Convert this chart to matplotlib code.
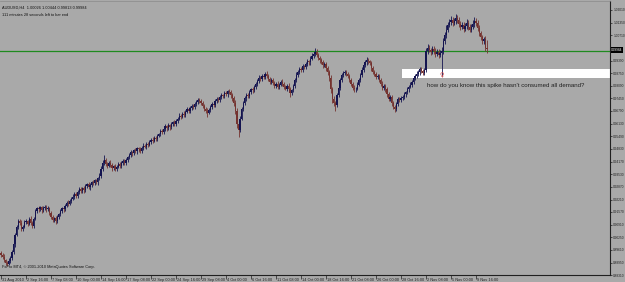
import matplotlib
matplotlib.use("Agg")
from matplotlib import pyplot as plt
from matplotlib.patches import Rectangle
import matplotlib.transforms as mtransforms

# AUDUSD H4 closes, in 1/10000 (one row per 16 bars)
closes = [
    8935, 8925, 8910, 8895, 8890, 8905, 8920, 8950, 8990, 9040, 9080, 9110, 9100, 9070, 9080, 9105,
    9110, 9095, 9120, 9100, 9085, 9120, 9160, 9175, 9170, 9180, 9165, 9175, 9185, 9170, 9175, 9150,
    9130, 9115, 9125, 9110, 9130, 9145, 9160, 9175, 9170, 9190, 9205, 9200, 9215, 9225, 9235, 9250,
    9240, 9260, 9275, 9265, 9280, 9270, 9290, 9300, 9285, 9295, 9310, 9305, 9320, 9310, 9330, 9345,
    9380, 9410, 9425, 9405, 9395, 9410, 9400, 9385, 9395, 9380, 9390, 9405, 9395, 9410, 9420, 9410,
    9425, 9440, 9450, 9465, 9460, 9475, 9470, 9485, 9480, 9470, 9490, 9500, 9495, 9510, 9505, 9520,
    9530, 9525, 9540, 9535, 9550, 9560, 9575, 9570, 9585, 9600, 9590, 9605, 9595, 9610, 9620, 9610,
    9625, 9640, 9655, 9650, 9665, 9660, 9675, 9690, 9680, 9695, 9705, 9700, 9715, 9725, 9735, 9730,
    9720, 9705, 9690, 9680, 9670, 9685, 9700, 9715, 9710, 9730, 9740, 9735, 9750, 9760, 9755, 9770,
    9765, 9780, 9775, 9760, 9745, 9720, 9680, 9610, 9580, 9640, 9690, 9720, 9745, 9760, 9755, 9775,
    9790, 9785, 9805, 9820, 9835, 9850, 9845, 9860, 9855, 9870, 9860, 9845, 9830, 9840, 9825, 9810,
    9820, 9805, 9815, 9830, 9820, 9805, 9795, 9810, 9790, 9770, 9785, 9810, 9840, 9865, 9880, 9895,
    9890, 9910, 9905, 9920, 9935, 9930, 9950, 9965, 9975, 9985, 9970, 9955, 9940, 9930, 9915, 9920,
    9900, 9880, 9850, 9790, 9740, 9720, 9710, 9760, 9800, 9840, 9865, 9875, 9880, 9870, 9860, 9840,
    9820, 9800, 9790, 9795, 9815, 9840, 9865, 9890, 9915, 9930, 9940, 9935, 9925, 9900, 9880, 9870,
    9855, 9860, 9840, 9820, 9800, 9810, 9790, 9765, 9740, 9750, 9720, 9700, 9690, 9715, 9740, 9735,
    9745, 9750, 9765, 9775, 9790, 9805, 9815, 9830, 9850, 9860, 9870, 9880, 9895, 9885, 9875, 9890,
    9990, 10005, 9995, 9985, 10000, 9990, 9975, 9985, 9970, 9980, 9990, 10040, 10070, 10100, 10125, 10140,
    10150, 10135, 10145, 10160, 10150, 10130, 10115, 10125, 10105, 10120, 10135, 10115, 10100, 10115, 10130, 10145,
    10135, 10110, 10080, 10060, 10040, 10050, 10003, 9998,
]
first_open = 8945

# wick lengths in pips above / below the body
wick_up = [
    10, 8, 12, 6, 9, 14, 7, 11, 15, 9, 12, 8, 10, 13, 7, 9,
    12, 6, 10, 14, 8, 9, 11, 7, 13, 10, 8, 12, 6, 9, 11, 7,
    10, 13, 8, 9, 12, 7, 11, 10, 14, 8, 9, 12, 7, 10, 13, 9,
    8, 11, 10, 12, 7, 9, 13, 8, 10, 11, 6, 12, 9, 8, 10, 14,
    12, 18, 25, 9, 11, 8, 13, 10, 7, 12, 9, 11, 8, 10, 13, 9,
    11, 8, 10, 12, 9, 7, 13, 10, 8, 11, 9, 12, 7, 10, 8, 11,
    9, 12, 8, 10, 11, 7, 13, 9, 10, 12, 8, 11, 9, 10, 7, 12,
    10, 8, 12, 9, 11, 13, 8, 10, 12, 9, 11, 8, 10, 12, 9, 11,
    13, 9, 10, 8, 12, 11, 9, 10, 8, 12, 10, 9, 11, 13, 8, 10,
    12, 9, 14, 10, 11, 13, 15, 12, 18, 14, 11, 9, 12, 10, 13, 11,
    9, 12, 10, 11, 8, 13, 10, 12, 9, 11, 14, 10, 8, 12, 9, 11,
    10, 13, 9, 11, 12, 8, 10, 9, 13, 11, 8, 10, 12, 14, 9, 11,
    10, 12, 9, 13, 11, 10, 12, 14, 11, 22, 13, 10, 9, 12, 11, 10,
    12, 10, 11, 13, 12, 15, 10, 14, 12, 11, 10, 13, 9, 11, 12, 10,
    11, 9, 12, 10, 13, 11, 12, 14, 10, 12, 18, 11, 9, 12, 10, 11,
    12, 10, 9, 11, 12, 10, 9, 13, 11, 12, 10, 9, 12, 11, 10, 12,
    10, 12, 11, 9, 13, 10, 12, 11, 10, 12, 14, 11, 12, 10, 13, 11,
    15, 18, 14, 12, 16, 13, 15, 12, 14, 13, 20, 15, 18, 25, 14, 16,
    20, 14, 16, 18, 13, 15, 14, 16, 12, 15, 18, 14, 13, 16, 19, 22,
    15, 14, 16, 12, 14, 13, 18, 41,
]
wick_dn = [
    9, 12, 10, 14, 13, 8, 11, 9, 10, 12, 8, 11, 9, 13, 10, 8,
    10, 12, 8, 11, 13, 9, 7, 10, 12, 8, 11, 9, 10, 12, 8, 11,
    12, 10, 9, 13, 8, 11, 10, 9, 12, 8, 10, 11, 9, 12, 8, 10,
    11, 9, 12, 10, 8, 13, 9, 11, 10, 12, 8, 10, 11, 9, 12, 8,
    10, 9, 11, 13, 12, 8, 10, 14, 9, 12, 10, 8, 11, 9, 10, 12,
    9, 11, 10, 8, 12, 10, 9, 11, 13, 10, 8, 12, 9, 11, 10, 9,
    10, 12, 9, 11, 10, 8, 12, 10, 9, 11, 13, 10, 12, 9, 11, 10,
    11, 9, 10, 12, 8, 11, 10, 9, 12, 10, 11, 9, 10, 8, 12, 10,
    12, 11, 13, 10, 22, 9, 11, 10, 12, 9, 11, 10, 12, 9, 11, 10,
    10, 12, 9, 14, 12, 15, 18, 20, 35, 12, 10, 11, 9, 12, 10, 11,
    10, 12, 9, 11, 10, 12, 9, 11, 10, 12, 9, 11, 13, 10, 12, 11,
    10, 12, 11, 9, 12, 13, 10, 11, 14, 20, 11, 9, 10, 12, 9, 11,
    12, 10, 11, 9, 10, 12, 11, 9, 10, 12, 14, 11, 12, 10, 13, 11,
    12, 14, 16, 20, 18, 15, 30, 12, 10, 11, 9, 12, 10, 11, 12, 10,
    12, 13, 15, 11, 10, 9, 11, 10, 12, 9, 11, 12, 10, 13, 11, 12,
    11, 12, 10, 13, 12, 11, 14, 13, 12, 11, 15, 12, 18, 10, 11, 12,
    12, 10, 11, 12, 10, 11, 9, 12, 10, 11, 13, 12, 14, 11, 12, 10,
    12, 14, 13, 15, 12, 14, 16, 13, 15, 14, 120, 16, 13, 15, 14, 12,
    14, 16, 13, 15, 14, 16, 15, 13, 16, 14, 15, 16, 13, 15, 14, 16,
    15, 18, 16, 14, 17, 15, 16, 17,
]

date_labels = ["31 Aug 2010", "2 Sep 16:00", "7 Sep 08:00", "10 Sep 00:00", "14 Sep 16:00",
               "17 Sep 08:00", "22 Sep 00:00", "24 Sep 16:00", "29 Sep 08:00", "4 Oct 00:00",
               "6 Oct 16:00", "11 Oct 08:00", "14 Oct 00:00", "18 Oct 16:00", "21 Oct 08:00",
               "26 Oct 00:00", "28 Oct 16:00", "2 Nov 08:00", "5 Nov 00:00", "9 Nov 16:00"]
bars_per_label = 16

price_ticks = [1.02010, 1.01350, 1.00710, 0.99390, 0.98750, 0.98090, 0.97450, 0.96790,
               0.96130, 0.95490, 0.94830, 0.94170, 0.93530, 0.92870, 0.92210, 0.91570,
               0.90910, 0.90250, 0.89610, 0.88950, 0.88310]

hline_price = 0.9991
zone_start, zone_top, zone_bottom = 257, 0.9896, 0.9849
spike_bar, spike_price = 282, 0.9860
note = "how do you know this spike hasn't consumed all demand?"
header = "AUDUSD,H4  1.00026 1.00444 0.99813 0.99984"
timer = "111 minutes 28 seconds left to bar end"
copyright_txt = "FxPro MT4, \u00a9 2001-2010 MetaQuotes Software Corp."
last_price = "0.99984"

bg = "#a9a9a9"
up_col = "#141450"
dn_col = "#74322f"
font = "Liberation Sans"

fig = plt.figure(figsize=(6.25, 2.82), dpi=100, facecolor=bg)
ax = fig.add_axes([0.0, 7 / 282, 610 / 625, 274 / 282])
ax.set_facecolor(bg)

opens = [first_open] + closes[:-1]
for i in range(len(closes)):
    o = opens[i] / 10000
    c = closes[i] / 10000
    hi = max(o, c) + wick_up[i] / 10000
    lo = min(o, c) - wick_dn[i] / 10000
    col = up_col if c >= o else dn_col
    ax.vlines(i, lo, hi, color=col, lw=0.6, zorder=3)
    ax.bar(i, max(abs(c - o), 0.0002), bottom=min(o, c), width=0.75, color=col, lw=0, zorder=3)

ax.add_patch(Rectangle((zone_start - 0.5, zone_bottom), 400, zone_top - zone_bottom,
                       facecolor="white", edgecolor="none", zorder=2))
ax.axhline(hline_price, color="#1f8a1f", lw=0.9, zorder=2)
ax.text(spike_bar, spike_price, "\u2640", color="#d04848", fontsize=4.5,
        ha="center", va="center", zorder=4)
ax.text(spike_bar - 9.5, 0.9812, note, fontsize=4.4, family=font,
        color="#202020", va="center", ha="left", zorder=4)

ax.set_xlim(-0.64, 389.76)
ax.set_ylim(0.8831, 0.8831 + 274 * 0.00051698)

ax.yaxis.tick_right()
ax.set_yticks(price_ticks)
ax.set_yticklabels(["%.5f" % p for p in price_ticks], family=font)
ax.tick_params(axis="y", direction="out", length=1.5, width=0.5, pad=0.8,
               labelsize=2.3, colors="#202020")

xt = [k * bars_per_label for k in range(len(date_labels))]
ax.set_xticks(xt)
ax.set_xticklabels([])
ax.tick_params(axis="x", direction="out", length=3, width=0.5, colors="#202020")
trans = mtransforms.blended_transform_factory(ax.transData, ax.transAxes)
for x, lab in zip(xt, date_labels):
    ax.text(x + 0.9, -0.012, lab, transform=trans, fontsize=2.8, ha="left", va="top",
            color="#202020", family=font, clip_on=False)

ax.spines["left"].set_visible(False)
ax.spines["top"].set_color("#8a8a8a")
ax.spines["top"].set_linewidth(0.5)
ax.spines["right"].set_color("#202020")
ax.spines["bottom"].set_color("#202020")
ax.spines["right"].set_linewidth(0.8)
ax.spines["bottom"].set_linewidth(0.8)

ax.text(1.002, hline_price + 0.0003, last_price,
        transform=mtransforms.blended_transform_factory(ax.transAxes, ax.transData),
        fontsize=2.3, family=font, color="white", va="center", ha="left", clip_on=False,
        bbox=dict(facecolor="black", edgecolor="none", pad=0.5))

ax.text(0.004, 0.985, header, transform=ax.transAxes, fontsize=2.8, va="top", ha="left",
        family=font, color="#101010")
ax.text(0.004, 0.955, timer, transform=ax.transAxes, fontsize=2.8, va="top", ha="left",
        family=font, color="#101010")
ax.text(0.003, 0.03, copyright_txt, transform=ax.transAxes, fontsize=2.8, va="center", ha="left",
        family=font, color="#101010")

fig.savefig("out.png", dpi=100, facecolor=bg)
